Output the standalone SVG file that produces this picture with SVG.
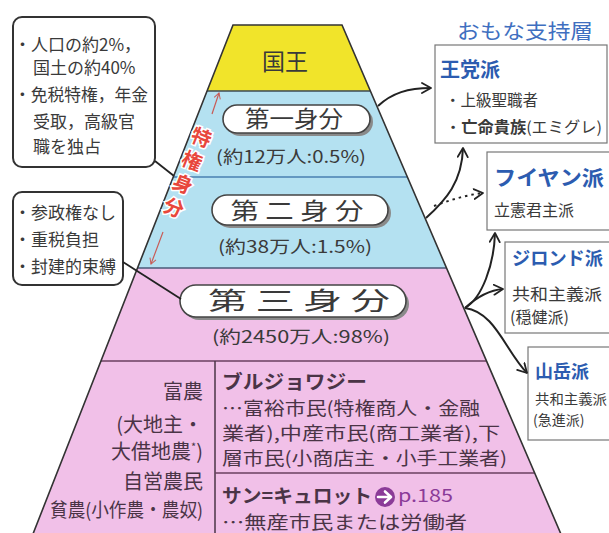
<svg xmlns="http://www.w3.org/2000/svg" width="609" height="533" viewBox="0 0 609 533">
<defs>
<marker id="ah" viewBox="0 0 12 12" refX="10" refY="6" markerWidth="12" markerHeight="12" markerUnits="userSpaceOnUse" orient="auto">
<path d="M1,1 L10,6 L1,11" fill="none" stroke="#222" stroke-width="1.8" stroke-linejoin="round" stroke-linecap="round"/>
</marker>
<marker id="rh" viewBox="0 0 10 10" refX="8" refY="5" markerWidth="8" markerHeight="8" markerUnits="userSpaceOnUse" orient="auto">
<path d="M1,1 L8,5 L1,9" fill="none" stroke="#c85a55" stroke-width="1.2"/>
</marker>
</defs>
<style>
text{font-family:"Noto Sans CJK JP","Noto Sans",sans-serif;fill:#3a3a3a}
.cb{fill:#fff;stroke:#333;stroke-width:2}
.pill{fill:#fff;stroke:#444;stroke-width:1.6}
.sh{fill:#8a8a8a}
.box{fill:#fff;stroke:#777;stroke-width:1.2}
.hd{fill:#2c5cb0;font-weight:bold}
.con{fill:none;stroke:#222;stroke-width:2}
.pk{fill:#4a3446}
.red{fill:#e8473c;stroke:#fff;stroke-width:3;paint-order:stroke;font-weight:bold}
</style>
<rect width="609" height="533" fill="#fff"/>

<g id="pyramid">
<polygon points="233,25 342,25 370.4,91 207.1,91" fill="#f1e42a"/>
<polygon points="207.1,91 370.4,91 446.5,268 137.5,268" fill="#b4e1f1"/>
<polygon points="137.5,268 446.5,268 563.5,540 30.6,540" fill="#f1c0e8"/>
<line x1="207.1" y1="91" x2="370.4" y2="91" stroke="#3d4a55" stroke-width="1.5"/>
<line x1="173.3" y1="177" x2="407.4" y2="177" stroke="#4a7fb0" stroke-width="1.5"/>
<line x1="137.5" y1="268" x2="446.5" y2="268" stroke="#4a5a78" stroke-width="1.5"/>
<line x1="101" y1="361" x2="486.5" y2="361" stroke="#6a4060" stroke-width="1.5"/>
<line x1="215" y1="361" x2="215" y2="540" stroke="#4a3446" stroke-width="1.5"/>
<line x1="215" y1="473" x2="534.6" y2="473" stroke="#6a4060" stroke-width="1.5"/>
<polyline points="30.6,540 233,25 342,25 563.5,540" fill="none" stroke="#333" stroke-width="1.6"/>
</g>

<g id="king">
<text x="285" y="70" font-size="23" text-anchor="middle">国王</text>
</g>

<g id="first-estate">
<rect class="sh" x="226" y="108" width="147" height="28" rx="14"/>
<rect class="pill" x="223" y="105" width="147" height="28" rx="14"/>
<text x="294" y="127" font-size="23" text-anchor="middle" textLength="98" lengthAdjust="spacingAndGlyphs">第一身分</text>
<text x="291" y="163" font-size="17" text-anchor="middle" textLength="150" lengthAdjust="spacingAndGlyphs">(約12万人:0.5%)</text>
</g>

<g id="second-estate">
<rect class="sh" x="215" y="198" width="176" height="30" rx="15"/>
<rect class="pill" x="212" y="195" width="176" height="30" rx="15"/>
<text x="297" y="219" font-size="23" text-anchor="middle" textLength="133" lengthAdjust="spacingAndGlyphs">第 二 身 分</text>
<text x="295" y="253" font-size="17" text-anchor="middle" textLength="154" lengthAdjust="spacingAndGlyphs">(約38万人:1.5%)</text>
</g>

<g id="third-estate">
<rect class="sh" x="183" y="288" width="226" height="32" rx="16"/>
<rect class="pill" x="180" y="285" width="226" height="32" rx="16"/>
<text x="299" y="310" font-size="25" text-anchor="middle" textLength="182" lengthAdjust="spacingAndGlyphs">第 三 身 分</text>
<text x="301" y="343" font-size="17" text-anchor="middle" textLength="178" lengthAdjust="spacingAndGlyphs">(約2450万人:98%)</text>
</g>

<g id="privileged-label">
<g transform="translate(201,138) rotate(21.5)">
<text class="red" x="0" y="7" font-size="20" text-anchor="middle">特</text>
<text class="red" x="0" y="32" font-size="20" text-anchor="middle">権</text>
<text class="red" x="0" y="57" font-size="20" text-anchor="middle">身</text>
<text class="red" x="0" y="82" font-size="20" text-anchor="middle">分</text>
</g>
<line x1="212" y1="114" x2="219" y2="93" stroke="#c85a55" stroke-width="1.2" marker-end="url(#rh)"/>
<line x1="163" y1="232" x2="151" y2="264" stroke="#c85a55" stroke-width="1.2" marker-end="url(#rh)"/>
</g>

<g id="callout-privileged">
<rect class="cb" x="13" y="17" width="142" height="150" rx="9"/>
<text x="14" y="51" font-size="17">・人口の約2%，</text>
<text x="33" y="74" font-size="17">国土の約40%</text>
<text x="14" y="101" font-size="17" textLength="134" lengthAdjust="spacingAndGlyphs">・免税特権，年金</text>
<text x="33" y="128" font-size="17">受取，高級官</text>
<text x="33" y="153" font-size="17">職を独占</text>
</g>

<g id="callout-third">
<rect class="cb" x="13" y="192" width="110" height="93" rx="9"/>
<text x="14" y="219" font-size="17">・参政権なし</text>
<text x="14" y="246" font-size="17">・重税負担</text>
<text x="14" y="273" font-size="17">・封建的束縛</text>
</g>

<g id="peasants">
<text class="pk" x="203" y="399" font-size="20" text-anchor="end">富農</text>
<text class="pk" x="203" y="432" font-size="20" text-anchor="end">(大地主・</text>
<text class="pk" x="203" y="459" font-size="20" text-anchor="end">大借地農<tspan font-size="11" dy="-8">*</tspan><tspan dy="8">)</tspan></text>
<text class="pk" x="203" y="489" font-size="20" text-anchor="end">自営農民</text>
<text class="pk" x="203" y="517" font-size="19" text-anchor="end" textLength="153" lengthAdjust="spacingAndGlyphs">貧農(小作農・農奴)</text>
</g>

<g id="bourgeoisie">
<text class="pk" x="222" y="389" font-size="19" font-weight="bold" textLength="145" lengthAdjust="spacingAndGlyphs">ブルジョワジー</text>
<text class="pk" x="222" y="415" font-size="18" textLength="258" lengthAdjust="spacingAndGlyphs">…富裕市民(特権商人・金融</text>
<text class="pk" x="222" y="440" font-size="18" textLength="278" lengthAdjust="spacingAndGlyphs">業者),中産市民(商工業者),下</text>
<text class="pk" x="222" y="465" font-size="18" textLength="285" lengthAdjust="spacingAndGlyphs">層市民(小商店主・小手工業者)</text>
</g>

<g id="sans-culottes">
<text class="pk" x="222" y="503" font-size="19" font-weight="bold" textLength="150" lengthAdjust="spacingAndGlyphs">サン=キュロット</text>
<circle cx="385" cy="497" r="10" fill="#8b3b98"/>
<path d="M378,497 L390,497 M385,491.5 L391,497 L385,502.5" fill="none" stroke="#fff" stroke-width="2.6" stroke-linecap="round" stroke-linejoin="round"/>
<text x="398" y="502" font-size="18" style="fill:#8b3b98" textLength="55" lengthAdjust="spacingAndGlyphs">p.185</text>
<text class="pk" x="222" y="529" font-size="18" textLength="245" lengthAdjust="spacingAndGlyphs">…無産市民または労働者</text>
</g>

<g id="supporters-title">
<text x="457" y="39" font-size="20" style="fill:#3f6fc0" textLength="136" lengthAdjust="spacingAndGlyphs">おもな支持層</text>
</g>

<g id="royalists">
<rect class="box" x="435" y="45" width="172" height="98"/>
<text class="hd" x="440" y="77" font-size="20">王党派</text>
<text x="445" y="106" font-size="15.5">・上級聖職者</text>
<text x="445" y="133" font-size="15.5" textLength="157" lengthAdjust="spacingAndGlyphs">・<tspan font-weight="bold">亡命貴族</tspan>(エミグレ)</text>
</g>

<g id="feuillants">
<rect class="box" x="487" y="152" width="125" height="78"/>
<text class="hd" x="494" y="185" font-size="21" textLength="110" lengthAdjust="spacingAndGlyphs">フイヤン派</text>
<text x="494" y="216" font-size="16">立憲君主派</text>
</g>

<g id="girondins">
<rect class="box" x="505" y="242" width="107" height="91"/>
<text class="hd" x="512" y="265" font-size="18.5" textLength="91" lengthAdjust="spacingAndGlyphs">ジロンド派</text>
<text x="512" y="300" font-size="16" textLength="90" lengthAdjust="spacingAndGlyphs">共和主義派</text>
<text x="510" y="323" font-size="16">(穏健派)</text>
</g>

<g id="montagnards">
<rect class="box" x="528" y="347" width="84" height="93"/>
<text class="hd" x="535" y="378" font-size="18">山岳派</text>
<text x="535" y="404" font-size="14" textLength="72" lengthAdjust="spacingAndGlyphs">共和主義派</text>
<text x="533" y="425" font-size="14">(急進派)</text>
</g>

<g id="connectors">
<line x1="155" y1="161" x2="174" y2="176" stroke="#222" stroke-width="1.8"/>
<line x1="123" y1="262" x2="181" y2="299" stroke="#222" stroke-width="1.8"/>
<path class="con" d="M378,106 C392,93 408,88 431,88" marker-end="url(#ah)"/>
<path class="con" d="M426,218 C446,200 462,182 463,148" marker-end="url(#ah)"/>
<path class="con" d="M434,206 C450,200 466,195 483,193" stroke-dasharray="2.5,4" marker-end="url(#ah)"/>
<path class="con" d="M465,308 C482,298 494,265 495,233" marker-end="url(#ah)"/>
<path class="con" d="M465,308 C478,296 490,290 503,289" marker-end="url(#ah)"/>
<path class="con" d="M465,308 C495,312 505,350 527,373" marker-end="url(#ah)"/>
</g>
</svg>
